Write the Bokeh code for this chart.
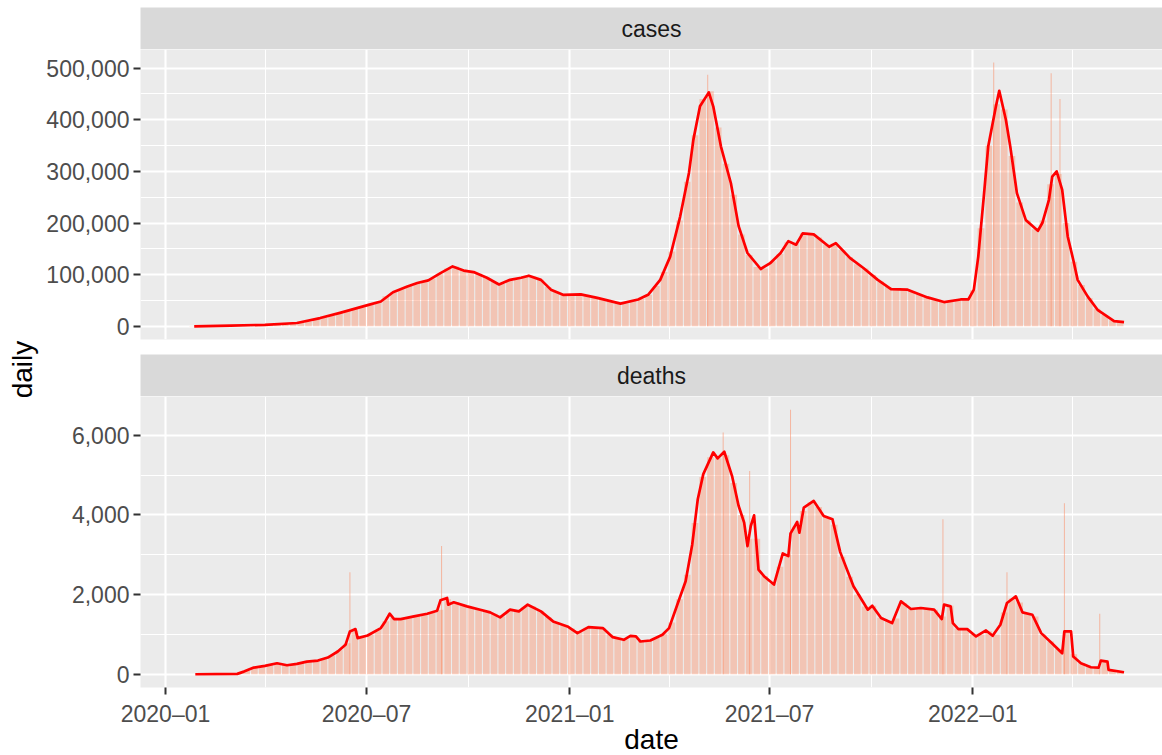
import numpy as np
import pandas as pd
from bokeh.plotting import figure
from bokeh.layouts import column, row
from bokeh.models import Range1d, FixedTicker, NumeralTickFormatter, Label, ColumnDataSource
from bokeh.embed import file_html
from bokeh.resources import INLINE

# ---------------- data ----------------
ORIGIN = pd.Timestamp("2020-01-01")
first_week = "2020-01-22"   # first weekly bar starts here

cases_weekly = [
    500, 1000, 2000, 2000, 1500, 1000, 1500, 2000, 3000, 4000,
    4000, 5000, 5000, 6000, 7000, 9000, 13000, 17000, 20000, 26000,
    30000, 34000, 37000, 42000, 47000, 58000, 66000, 72000, 78000, 84000,
    87000, 92000, 102000, 112000, 116000, 110000, 106000, 102000, 95000, 86000,
    82000, 89000, 92000, 97000, 96000, 90000, 76000, 67000, 61000, 59000,
    63000, 59000, 56000, 53000, 49000, 45000, 44000, 49000, 53000, 61000,
    78000, 105000, 145000, 205000, 280000, 370000, 440000, 455000, 385000, 315000,
    255000, 178000, 138000, 115000, 112000, 126000, 140000, 163000, 160000, 180000,
    180000, 172000, 158000, 160000, 148000, 134000, 120000, 112000, 100000, 87000,
    76000, 72000, 72000, 68000, 62000, 56000, 52000, 48000, 50000, 52000,
    52000, 70000, 190000, 350000, 430000, 420000, 330000, 240000, 205000, 188000,
    205000, 275000, 295000, 200000, 125000, 80000, 55000, 34000, 22000, 12000,
    8000,
]

deaths_weekly = [
    0, 0, 2, 5, 5, 5, 20, 90, 170, 200,
    240, 275, 235, 245, 280, 320, 340, 390, 470, 600,
    780, 1100, 930, 1000, 1120, 1330, 1420, 1390, 1420, 1460,
    1500, 1540, 1620, 1880, 1800, 1740, 1690, 1640, 1590, 1520,
    1450, 1600, 1590, 1690, 1700, 1590, 1440, 1300, 1230, 1150,
    1060, 1170, 1180, 1160, 1000, 900, 870, 960, 830, 840,
    910, 1020, 1300, 1880, 2500, 3800, 4950, 5450, 5420, 5500,
    4800, 4000, 3400, 3400, 2460, 2280, 2700, 3000, 3700, 4100,
    4320, 4200, 3950, 3750, 2950, 2450, 2000, 1700, 1720, 1420,
    1330, 1400, 1780, 1640, 1660, 1650, 1620, 1450, 1720, 1150,
    1130, 1000, 1000, 1080, 1000, 1550, 1900, 1800, 1520, 1450,
    1000, 820, 640, 1075, 500, 280, 190, 170, 330, 100,
    55,
]

# single-day spikes (days since 2020-01-01)
case_spike_day = [491, 750, 802, 810]
case_spike_val = [487000, 511000, 490000, 440000]
death_spike_day = [167, 250, 505, 529, 566, 704, 762, 814, 846]
death_spike_val = [2560, 3220, 6070, 5100, 6640, 3890, 2560, 4290, 1520]

# 7-day mean line (days since 2020-01-01)
case_line_day = [26, 59, 90, 119, 140, 158, 183, 195, 206, 219, 228, 238, 249, 260, 270,
                 279, 291, 302, 312, 322, 329, 340, 349, 360, 376, 391, 412, 428, 437, 448,
                 457, 466, 474, 478, 484, 492, 496, 503, 512, 519, 527, 539, 548, 557, 564,
                 571, 577, 587, 601, 607, 620, 632, 645, 657, 672, 690, 705, 720, 727, 732,
                 736, 741, 745, 752, 755, 761, 765, 771, 779, 790, 794, 800, 803, 807, 812,
                 817, 822, 826, 835, 844, 853, 859, 868]
case_line_val = [0, 1300, 3000, 6500, 16000, 26000, 41000, 48000, 66000, 77000, 84000, 89000,
                 103000, 116000, 108000, 105000, 94000, 81000, 90000, 94000, 98000, 90000,
                 71000, 61000, 62000, 55000, 44000, 52000, 61000, 90000, 135000, 212000,
                 297000, 361000, 426000, 453000, 426000, 348000, 277000, 194000, 142000,
                 111000, 123000, 142000, 165000, 158000, 180000, 178000, 154000, 161000,
                 132000, 113000, 90000, 72000, 71000, 56000, 47000, 52000, 52000, 71000,
                 135000, 251000, 348000, 426000, 456000, 400000, 348000, 258000, 206000,
                 185000, 200000, 245000, 290000, 300000, 264000, 174000, 129000, 90000,
                 58000, 32000, 19000, 10000, 8000]

death_line_day = [27, 65, 71, 80, 90, 101, 110, 119, 128, 138, 147, 156, 163, 167, 172, 174,
                  183, 195, 199, 203, 207, 213, 225, 237, 246, 249, 255, 256, 261, 273, 285,
                  294, 303, 312, 320, 328, 340, 351, 364, 373, 383, 396, 405, 415, 421, 426,
                  430, 439, 450, 456, 464, 471, 477, 482, 487, 496, 500, 506, 513, 519, 524,
                  527, 530, 533, 537, 542, 551, 559, 564, 566, 572, 574, 578, 587, 596, 604,
                  611, 623, 636, 640, 648, 658, 666, 675, 684, 696, 703, 705, 711, 713, 718,
                  726, 734, 743, 749, 756, 762, 770, 776, 785, 793, 802, 812, 814, 820, 822,
                  829, 838, 845, 847, 853, 854, 868]
death_line_val = [0, 10, 67, 168, 210, 277, 227, 260, 319, 344, 420, 571, 739, 1075, 1134, 907,
                  974, 1159, 1327, 1520, 1386, 1386, 1453, 1520, 1596, 1856, 1915, 1747, 1806,
                  1705, 1621, 1554, 1428, 1621, 1579, 1747, 1579, 1327, 1201, 1033, 1184, 1159,
                  932, 865, 966, 949, 823, 848, 991, 1159, 1789, 2335, 3259, 4393, 5023, 5569,
                  5418, 5586, 4981, 4225, 3805, 3217, 3721, 3990, 2629, 2461, 2251, 3032, 2965,
                  3536, 3822, 3553, 4183, 4351, 3973, 3889, 3066, 2209, 1621, 1722, 1411, 1285,
                  1831, 1638, 1663, 1621, 1386, 1747, 1705, 1285, 1134, 1134, 949, 1100, 966,
                  1243, 1789, 1957, 1554, 1495, 1033, 798, 529, 1075, 1075, 445, 277, 176, 168,
                  344, 319, 109, 50]

x_tick_dates = ["2020-01-01", "2020-07-01", "2021-01-01", "2021-07-01", "2022-01-01"]
x_tick_labels = ["2020\u201301", "2020\u201307", "2021\u201301", "2021\u201307", "2022\u201301"]
x_minor_dates = ["2020-04-01", "2020-10-01", "2021-04-01", "2021-10-01", "2022-04-01"]
cases_ticks = [0, 100000, 200000, 300000, 400000, 500000]
cases_minor = [50000, 150000, 250000, 350000, 450000]
deaths_ticks = [0, 2000, 4000, 6000]
deaths_minor = [1000, 3000, 5000]

# ---------------- helpers ----------------
DAY_MS = 86400000
FONT = "Liberation Sans"
FW = 1022
YL_W = 40
LEFT = 100
BAR_FILL = "#FC8961"
BAR_ALPHA = 0.4


def ms(d):
    return pd.Timestamp(d).value // 10**6


def to_dt(days):
    return ORIGIN + pd.to_timedelta(np.array(days, dtype=float), unit="D")


week_starts = pd.date_range(first_week, periods=len(cases_weekly), freq="7D")
week_centers = week_starts + pd.Timedelta(hours=84)

xr = Range1d(start=pd.Timestamp("2019-12-09 08:40"), end=pd.Timestamp("2022-06-21 20:00"))
xt = FixedTicker(ticks=[ms(d) for d in x_tick_dates], minor_ticks=[ms(d) for d in x_minor_dates])


def style_panel(p, yt):
    p.xgrid.ticker = xt
    p.ygrid.ticker = yt
    for g in (p.xgrid, p.ygrid):
        g.grid_line_color = "white"
        g.grid_line_width = 2.1
        g.minor_grid_line_color = "white"
        g.minor_grid_line_width = 1.1
    p.yaxis.ticker = yt
    p.yaxis.formatter = NumeralTickFormatter(format="0,0")
    p.yaxis.axis_line_color = None
    p.yaxis.major_tick_out = 7
    p.yaxis.major_tick_in = 0
    p.yaxis.major_tick_line_width = 2
    p.yaxis.major_tick_line_color = "#333333"
    p.yaxis.minor_tick_line_color = None
    p.yaxis.major_label_text_font = FONT
    p.yaxis.major_label_text_font_size = "23px"
    p.yaxis.major_label_text_color = "#4D4D4D"
    p.yaxis.major_label_standoff = 4


def strip(label, top):
    s = figure(frame_width=FW, frame_height=42, x_range=(0, 1), y_range=(0, 1),
               toolbar_location=None, output_backend="svg",
               x_axis_location=None, y_axis_location=None,
               min_border=0, min_border_left=LEFT, min_border_top=top,
               background_fill_color="#D9D9D9", outline_line_color=None)
    s.grid.visible = False
    s.add_layout(Label(x=0.5, y=0.5, text=label, text_align="center", text_baseline="middle",
                       text_font=FONT, text_font_size="23px", text_color="#1A1A1A"))
    return s


def panel(height, yrange, yt, weekly, sp_day, sp_val, ln_day, ln_val, show_x):
    p = figure(x_axis_type="datetime", x_range=xr, y_range=yrange,
               frame_width=FW, frame_height=height,
               min_border=0, min_border_left=LEFT,
               x_axis_location="below" if show_x else None,
               toolbar_location=None, output_backend="svg",
               background_fill_color="#EBEBEB", outline_line_color=None,
               border_fill_color="white")
    if not show_x:
        p.min_border_bottom = 15
    style_panel(p, yt)
    bars = ColumnDataSource(dict(x=week_centers, top=weekly))
    p.vbar(x="x", top="top", bottom=0, width=7 * DAY_MS * 0.86, source=bars,
           fill_color=BAR_FILL, fill_alpha=BAR_ALPHA, line_color=None)
    spikes = ColumnDataSource(dict(x=to_dt(sp_day), top=sp_val))
    p.vbar(x="x", top="top", bottom=0, width=DAY_MS * 0.9, source=spikes,
           fill_color=BAR_FILL, fill_alpha=0.55, line_color=None)
    line = ColumnDataSource(dict(x=to_dt(ln_day), y=ln_val))
    p.line(x="x", y="y", source=line, line_color="#FF0000", line_width=2.7,
           line_join="round")
    if show_x:
        p.xaxis.ticker = xt
        p.xaxis.major_label_overrides = {ms(d): lab for d, lab in zip(x_tick_dates, x_tick_labels)}
        p.xaxis.axis_line_color = None
        p.xaxis.major_tick_out = 7
        p.xaxis.major_tick_in = 0
        p.xaxis.major_tick_line_width = 2
        p.xaxis.major_tick_line_color = "#333333"
        p.xaxis.minor_tick_line_color = None
        p.xaxis.major_label_text_font = FONT
        p.xaxis.major_label_text_font_size = "23px"
        p.xaxis.major_label_text_color = "#4D4D4D"
        p.xaxis.major_label_text_line_height = 0.9
        p.xaxis.major_label_standoff = 6
        p.xaxis.axis_label = "date"
        p.xaxis.axis_label_text_font = FONT
        p.xaxis.axis_label_text_font_size = "28px"
        p.xaxis.axis_label_text_font_style = "normal"
        p.xaxis.axis_label_text_color = "black"
        p.xaxis.axis_label_text_line_height = 0.9
        p.xaxis.axis_label_standoff = -6
    return p


s1 = strip("cases", 7)
p1 = panel(290, Range1d(-25500, 536000), FixedTicker(ticks=cases_ticks, minor_ticks=cases_minor),
           cases_weekly, case_spike_day, case_spike_val, case_line_day, case_line_val, False)
s2 = strip("deaths", 0)
p2 = panel(291, Range1d(-332, 6972), FixedTicker(ticks=deaths_ticks, minor_ticks=deaths_minor),
           deaths_weekly, death_spike_day, death_spike_val, death_line_day, death_line_val, True)

H = 720
yl = figure(frame_width=YL_W, frame_height=H, x_range=(0, YL_W), y_range=(0, H),
            toolbar_location=None, output_backend="svg",
            x_axis_location=None, y_axis_location=None, min_border=0,
            outline_line_color=None, background_fill_color="white")
yl.grid.visible = False
yl.add_layout(Label(x=22, y=H - 369, text="daily", angle=np.pi / 2, text_align="center",
                    text_baseline="middle", text_font=FONT, text_font_size="28px",
                    text_color="black"))

layout = row(yl, column(s1, p1, s2, p2, spacing=0), spacing=0)

open("out.html", "w").write(file_html(layout, INLINE))
